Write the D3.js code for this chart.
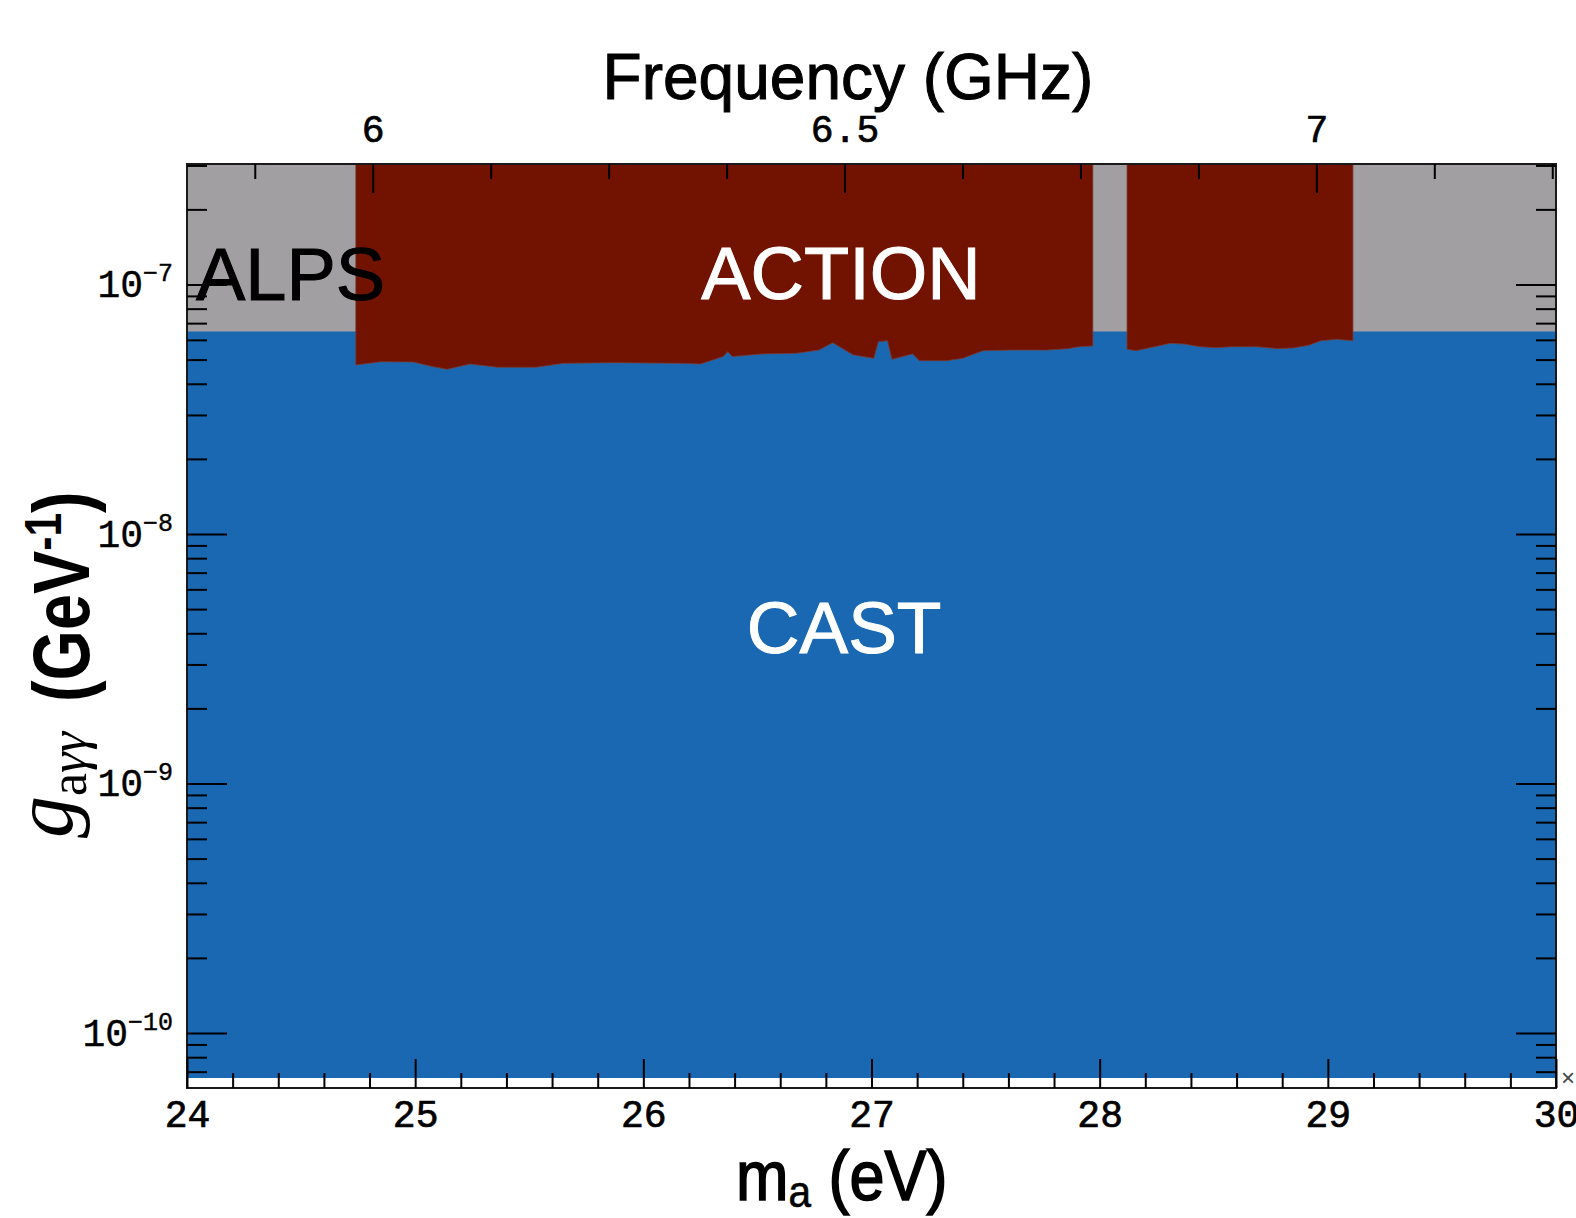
<!DOCTYPE html>
<html>
<head>
<meta charset="utf-8">
<script src="https://cdn.jsdelivr.net/npm/d3@7"></script>
<style>
  body { margin: 0; background: #fff; }
  svg { display: block; }
</style>
</head>
<body>
<svg id="chart" width="1576" height="1218"></svg>
<script>
// axis ranges and ticks
var massRange = [24, 30];
var couplingRange = [6.02e-11, 3.04e-7];
var massTicks = [24, 25, 26, 27, 28, 29, 30];
var freqTicks = [6, 6.5, 7];
var freqMinor = [5.875, 6.125, 6.25, 6.375, 6.625, 6.75, 6.875, 7.125, 7.25];
var decades = [-10, -9, -8, -7];
var ghzPerMass = 0.241799;

// exclusion limits
var alpsLimit = 6.48e-8;
var castLimit = 6.6e-11;

// ACTION limit, first scan (limit in units of 1e-8)
var actionMassA = [24.74, 24.85, 24.99, 25.08, 25.14, 25.24, 25.36, 25.53, 25.65, 25.87,
    26.16, 26.25, 26.35, 26.37, 26.39, 26.52, 26.67, 26.77, 26.83, 26.92,
    27.01, 27.03, 27.07, 27.09, 27.18, 27.21, 27.33, 27.40, 27.45, 27.49,
    27.62, 27.77, 27.86, 27.91, 27.97];
var actionLimitA = [4.76, 4.90, 4.89, 4.68, 4.57, 4.80, 4.66, 4.66, 4.83, 4.86,
    4.83, 4.80, 5.14, 5.38, 5.14, 5.27, 5.30, 5.46, 5.84, 5.22,
    5.06, 5.90, 5.95, 5.01, 5.27, 4.95, 4.95, 5.06, 5.27, 5.43,
    5.46, 5.46, 5.53, 5.63, 5.67];

// ACTION limit, second scan
var actionMassB = [28.12, 28.16, 28.23, 28.31, 28.37, 28.44, 28.51, 28.58, 28.69, 28.78,
    28.85, 28.92, 28.97, 29.04, 29.11];
var actionLimitB = [5.50, 5.43, 5.60, 5.81, 5.77, 5.63, 5.58, 5.63, 5.63, 5.53,
    5.57, 5.72, 5.95, 6.03, 5.95];

var svg = d3.select("#chart"),
    margin = {top: 164, right: 20, bottom: 130, left: 187},
    width = +svg.attr("width") - margin.left - margin.right,
    height = +svg.attr("height") - margin.top - margin.bottom;

var sansFont = "'Liberation Sans', Arial, Helvetica, sans-serif",
    monoFont = "'Liberation Mono', 'Courier New', monospace",
    serifFont = "'Liberation Serif', 'Times New Roman', serif";

var x = d3.scaleLinear().domain(massRange).range([0, width]),
    xf = d3.scaleLinear().domain(massRange.map(m => m * ghzPerMass)).range([0, width]),
    y = d3.scaleLog().domain(couplingRange).range([height, 0]);

var g = svg.append("g")
    .attr("transform", "translate(" + margin.left + "," + margin.top + ")");

// filled regions: CAST (blue), ALPS (grey), ACTION (dark red)
var band = d3.area()
    .x(d => x(d.m))
    .y0(d => y(d.g))
    .y1(0);

g.append("path")
    .datum(massRange.map(m => ({m: m, g: castLimit})))
    .attr("fill", "#1a67b2")
    .attr("d", band);

g.append("path")
    .datum(massRange.map(m => ({m: m, g: alpsLimit})))
    .attr("fill", "#a19fa2")
    .attr("d", band);

[[actionMassA, actionLimitA], [actionMassB, actionLimitB]].forEach(function (s) {
    var pts = s[0].map((m, i) => ({m: m, g: s[1][i] * 1e-8}));
    g.append("path")
        .datum(pts)
        .attr("fill", "#721200")
        .attr("stroke", "#7a3a30")
        .attr("stroke-width", 0.8)
        .attr("d", band);
});

// region names
g.append("text")
    .attr("x", x(24) + 9).attr("y", 136)
    .style("font-family", sansFont).style("font-size", "74px")
    .attr("fill", "#000").attr("stroke", "#000").attr("stroke-width", 1)
    .text("ALPS");

g.append("text")
    .attr("x", x(26.866)).attr("y", 135)
    .attr("text-anchor", "middle")
    .style("font-family", sansFont).style("font-size", "74px")
    .attr("fill", "#fff").attr("stroke", "#fff").attr("stroke-width", 1)
    .text("ACTION");

g.append("text")
    .attr("x", x(26.88)).attr("y", 489)
    .attr("text-anchor", "middle")
    .style("font-family", sansFont).style("font-size", "73px")
    .attr("fill", "#fff").attr("stroke", "#fff").attr("stroke-width", 1)
    .text("CAST");

// frame
g.append("rect")
    .attr("width", width).attr("height", height)
    .attr("fill", "none").attr("stroke", "#1a1a1a").attr("stroke-width", 2);

function styleAxis(sel) {
    sel.select(".domain").remove();
    sel.selectAll(".tick line").attr("stroke", "#000").attr("stroke-width", 2);
    sel.selectAll(".tick text")
        .attr("fill", "#000")
        .attr("stroke", "#000")
        .attr("stroke-width", 0.7)
        .style("font-family", monoFont)
        .style("font-size", "38px");
}

// bottom axis (mass)
var minorMass = d3.range(24, 30.001, 0.2).filter(v => Math.abs(v - Math.round(v)) > 0.01);

g.append("g")
    .attr("transform", "translate(0," + height + ")")
    .call(d3.axisBottom(x).tickValues(minorMass).tickSize(-15).tickFormat(""))
    .call(styleAxis);

g.append("g")
    .attr("transform", "translate(0," + height + ")")
    .call(d3.axisBottom(x).tickValues(massTicks).tickSize(-29).tickPadding(12).tickFormat(d3.format("d")))
    .call(styleAxis);

// top axis (frequency)
g.append("g")
    .call(d3.axisTop(xf).tickValues(freqMinor).tickSize(-15).tickFormat(""))
    .call(styleAxis);

g.append("g")
    .call(d3.axisTop(xf).tickValues(freqTicks).tickSize(-29).tickPadding(22).tickFormat(d => String(d)))
    .call(styleAxis);

// log axes, left and right
var minorLog = [];
for (var e = -11; e <= -7; e++) {
    for (var k = 2; k <= 9; k++) {
        var v = k * Math.pow(10, e);
        if (v >= couplingRange[0] && v <= couplingRange[1]) minorLog.push(v);
    }
}
var majorLog = decades.map(d => Math.pow(10, d));

g.append("g")
    .call(d3.axisLeft(y).tickValues(minorLog).tickSize(-20).tickFormat(""))
    .call(styleAxis);
g.append("g")
    .call(d3.axisLeft(y).tickValues(majorLog).tickSize(-40).tickFormat(""))
    .call(styleAxis);
g.append("g")
    .attr("transform", "translate(" + width + ",0)")
    .call(d3.axisRight(y).tickValues(minorLog).tickSize(-20).tickFormat(""))
    .call(styleAxis);
g.append("g")
    .attr("transform", "translate(" + width + ",0)")
    .call(d3.axisRight(y).tickValues(majorLog).tickSize(-40).tickFormat(""))
    .call(styleAxis);

// y tick labels 10^n
g.selectAll(".ylab")
    .data(decades)
    .join("text")
    .attr("class", "ylab")
    .attr("x", -14)
    .attr("y", d => y(Math.pow(10, d)) + 13)
    .attr("text-anchor", "end")
    .style("font-family", monoFont)
    .style("font-size", "38px")
    .attr("fill", "#000")
    .attr("stroke", "#000")
    .attr("stroke-width", 0.4)
    .each(function (d) {
        var t = d3.select(this);
        t.append("tspan").text("10");
        t.append("tspan").attr("dy", -16).style("font-size", "25px").text("\u2212" + (-d));
    });

// small marker at the lower right corner
svg.append("text")
    .attr("x", margin.left + width + 5).attr("y", margin.top + height - 2)
    .style("font-family", sansFont).style("font-size", "24px")
    .attr("fill", "#444")
    .text("\u00d7");

// titles
svg.append("text")
    .attr("x", 848).attr("y", 99)
    .attr("text-anchor", "middle")
    .style("font-family", sansFont).style("font-size", "64px")
    .attr("fill", "#000").attr("stroke", "#000").attr("stroke-width", 1)
    .text("Frequency (GHz)");

var xl = svg.append("text")
    .attr("transform", "translate(736,1200) scale(0.9,1)")
    .style("font-family", sansFont).style("font-size", "70px")
    .attr("fill", "#000").attr("stroke", "#000").attr("stroke-width", 1.6);
xl.append("tspan").text("m");
xl.append("tspan").attr("dy", 7).style("font-size", "45px").attr("stroke-width", 0.6).text("a");
xl.append("tspan").attr("dy", -7).text(" (eV)");

var yl1 = svg.append("text")
    .attr("transform", "translate(72,838) rotate(-90)")
    .attr("fill", "#000");
yl1.append("tspan").style("font-family", serifFont).style("font-style", "italic").style("font-size", "84px").text("g");
yl1.append("tspan").attr("dy", 14).style("font-family", serifFont).style("font-size", "52px").text("a");
yl1.append("tspan").style("font-family", serifFont).style("font-style", "italic").style("font-size", "52px").text("\u03b3\u03b3");

var yl2 = svg.append("text")
    .attr("transform", "translate(89,702) rotate(-90) scale(0.82,1)")
    .style("font-family", sansFont).style("font-size", "79px").style("font-weight", "bold")
    .attr("fill", "#000");
yl2.append("tspan").text("(GeV");
yl2.append("tspan").attr("dy", -28).style("font-size", "52px").text("-1");
yl2.append("tspan").attr("dy", 28).text(")");
</script>
</body>
</html>
